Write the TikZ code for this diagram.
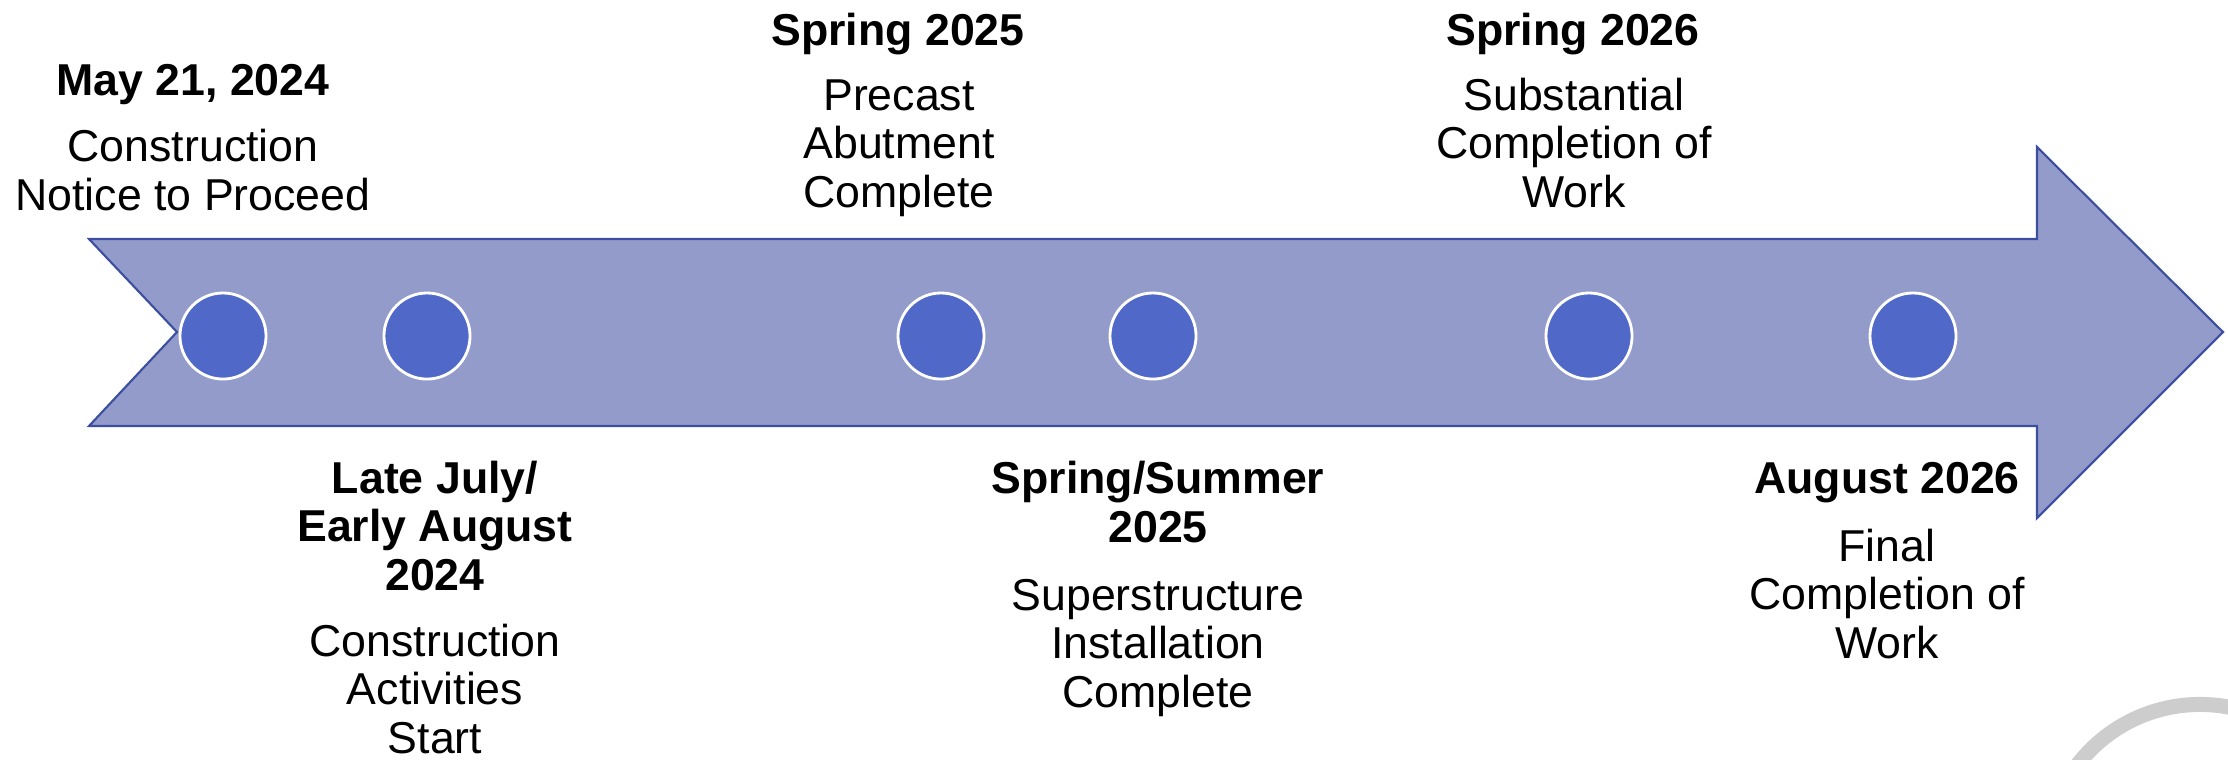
\documentclass[tikz,border=0pt]{standalone}
\usepackage{fontspec}
\setmainfont{Liberation Sans}
\usetikzlibrary{shapes}

\definecolor{arrowfill}{HTML}{939BCA}
\definecolor{arrowline}{HTML}{3B4EA0}
\definecolor{dotfill}{HTML}{5068C8}
\definecolor{ringgrey}{HTML}{CDCDCD}

\begin{document}
\begin{tikzpicture}[x=0.01cm, y=-0.01cm]
				\tikzstyle{date}=[font=\fontsize{12.7}{13.7}\selectfont\bfseries, align=center, anchor=base, inner sep=0pt]
				\tikzstyle{desc}=[font=\fontsize{12.7}{13.7}\selectfont, align=center, anchor=base, inner sep=0pt]
				\tikzstyle{dot}=[draw=white, line width=0.8pt, fill=dotfill, circle, minimum size=0.86cm, inner sep=0pt]
				\newcommand\Ydot{336}
				\newcommand\Ytop{45}
				\newcommand\Ybot{493}

				\useasboundingbox (0,0) rectangle (2228,759);

				 % Arrow
				\draw [fill=arrowfill, draw=arrowline, line width=0.6pt, line join=miter]
					(89,239) -- (2037,239) -- (2037,147) -- (2223,332) -- (2037,518)
					-- (2037,426) -- (89,426) -- (177,332) -- cycle;

				 % Grey ring in the corner
				\begin{scope}
					\clip (0,0) rectangle (2228,759);
					\draw [ringgrey, line width=0.15cm] (2200,859) circle [radius=1.545cm];
				\end{scope}

				 % Milestone dots
				\node [dot] at (223,\Ydot) (c1) {};
				\node [dot] at (427,\Ydot) (c2) {};
				\node [dot] at (941,\Ydot) (c3) {};
				\node [dot] at (1153,\Ydot) (c4) {};
				\node [dot] at (1589,\Ydot) (c5) {};
				\node [dot] at (1913,\Ydot) (c6) {};

				 % Above the arrow (base = last line)
				\node [date] at (193,95) (d1) {May 21, 2024};
				\node [desc] at (193,210) (t1) {Construction\\Notice to Proceed};
				\node [date] at (898,\Ytop) (d3) {Spring 2025};
				\node [desc] at (899,207) (t3) {Precast\\Abutment\\Complete};
				\node [date] at (1573,\Ytop) (d5) {Spring 2026};
				\node [desc] at (1574,207) (t5) {Substantial\\Completion of\\Work};

				 % Below the arrow
				\node [date] at (435,590) (d2) {Late July/\\Early August\\2024};
				\node [desc] at (435,753) (t2) {Construction\\Activities\\Start};
				\node [date] at (1158,542) (d4) {Spring/Summer\\2025};
				\node [desc] at (1158,707) (t4) {Superstructure\\Installation\\Complete};
				\node [date] at (1887,\Ybot) (d6) {August 2026};
				\node [desc] at (1887,658) (t6) {Final\\Completion of\\Work};

			\end{tikzpicture}
\end{document}
